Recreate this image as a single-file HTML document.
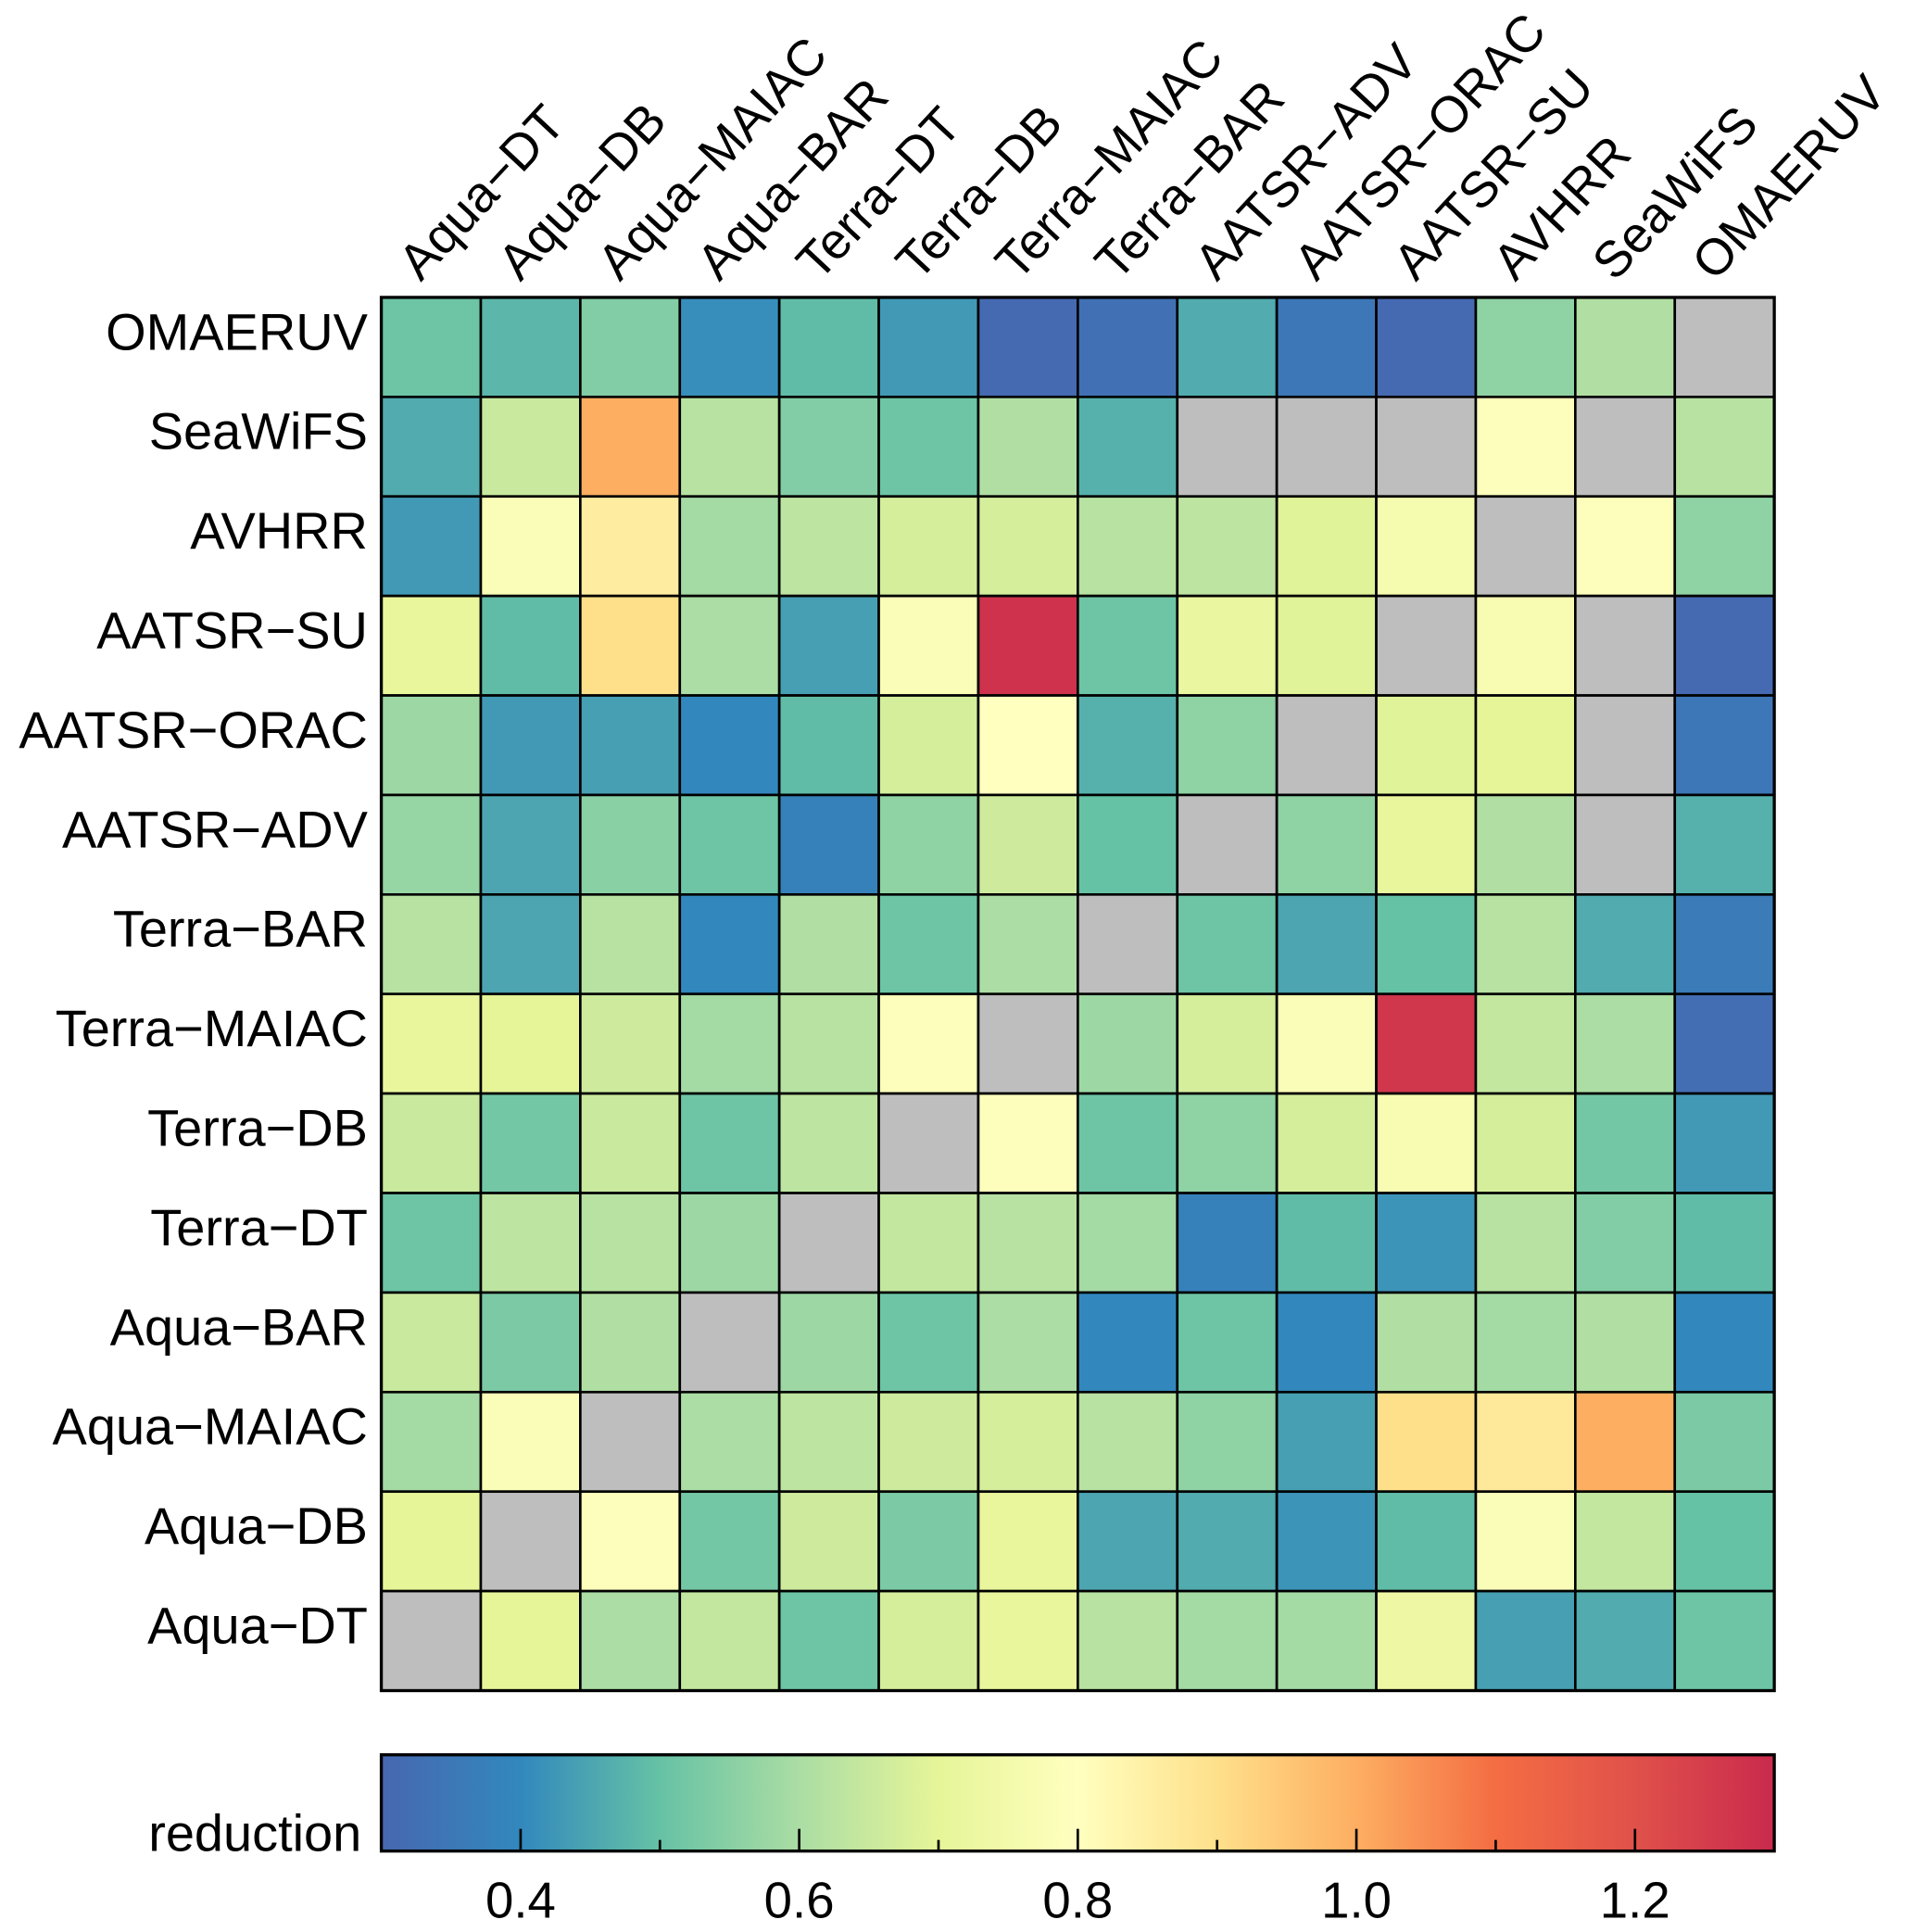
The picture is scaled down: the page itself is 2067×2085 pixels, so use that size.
<!DOCTYPE html>
<html><head><meta charset="utf-8"><style>
html,body{margin:0;padding:0;background:#fff;}
svg{display:block;font-family:"Liberation Sans",Arial,sans-serif;}
</style></head><body>
<svg id="chart" width="2067" height="2085" viewBox="0 0 1552 1565.6" xmlns="http://www.w3.org/2000/svg">
<defs>
<linearGradient id="cbgrad" x1="0" x2="1" y1="0" y2="0"></linearGradient>
</defs>
<g id="cells"></g>
<g id="collabels"></g>
<g id="rowlabels"></g>
<g id="colorbar"></g>
</svg>
<script>
const columns = ["Aqua\u2212DT","Aqua\u2212DB","Aqua\u2212MAIAC","Aqua\u2212BAR","Terra\u2212DT","Terra\u2212DB","Terra\u2212MAIAC","Terra\u2212BAR","AATSR\u2212ADV","AATSR\u2212ORAC","AATSR\u2212SU","AVHRR","SeaWiFS","OMAERUV"];
const rows = ["OMAERUV","SeaWiFS","AVHRR","AATSR\u2212SU","AATSR\u2212ORAC","AATSR\u2212ADV","Terra\u2212BAR","Terra\u2212MAIAC","Terra\u2212DB","Terra\u2212DT","Aqua\u2212BAR","Aqua\u2212MAIAC","Aqua\u2212DB","Aqua\u2212DT"];
const N = null;
const rowOMAERUV = [0.51,0.48,0.54,0.41,0.49,0.43,0.31,0.33,0.46,0.35,0.31,0.56,0.61,N];
const rowSeaWiFS = [0.46,0.65,1.0,0.62,0.54,0.51,0.61,0.47,N,N,N,0.79,N,0.62];
const rowAVHRR = [0.43,0.78,0.86,0.59,0.63,0.67,0.67,0.62,0.63,0.69,0.76,N,0.79,0.56];
const rowAATSRSU = [0.71,0.49,0.9,0.60,0.44,0.78,1.28,0.51,0.72,0.69,N,0.77,N,0.31];
const rowAATSRORAC = [0.58,0.43,0.44,0.40,0.49,0.67,0.80,0.47,0.56,N,0.69,0.70,N,0.35];
const rowAATSRADV = [0.57,0.45,0.55,0.51,0.38,0.56,0.66,0.50,N,0.56,0.71,0.61,N,0.47];
const rowTerraBAR = [0.62,0.45,0.62,0.40,0.61,0.51,0.60,N,0.51,0.45,0.50,0.62,0.46,0.36];
const rowTerraMAIAC = [0.71,0.70,0.66,0.59,0.62,0.79,N,0.58,0.67,0.78,1.27,0.64,0.60,0.32];
const rowTerraDB = [0.65,0.52,0.65,0.51,0.63,N,0.79,0.51,0.56,0.67,0.77,0.67,0.52,0.43];
const rowTerraDT = [0.51,0.63,0.62,0.58,N,0.64,0.62,0.59,0.38,0.49,0.42,0.62,0.54,0.49];
const rowAquaBAR = [0.65,0.53,0.61,N,0.58,0.51,0.60,0.40,0.51,0.40,0.61,0.59,0.61,0.40];
const rowAquaMAIAC = [0.59,0.78,N,0.60,0.63,0.66,0.67,0.62,0.56,0.44,0.90,0.87,1.0,0.53];
const rowAquaDB = [0.70,N,0.79,0.52,0.66,0.53,0.71,0.45,0.46,0.42,0.49,0.78,0.64,0.50];
const rowAquaDT = [N,0.70,0.60,0.64,0.51,0.67,0.71,0.62,0.59,0.59,0.73,0.44,0.46,0.51];
const values = [rowOMAERUV,rowSeaWiFS,rowAVHRR,rowAATSRSU,rowAATSRORAC,rowAATSRADV,rowTerraBAR,rowTerraMAIAC,rowTerraDB,rowTerraDT,rowAquaBAR,rowAquaMAIAC,rowAquaDB,rowAquaDT];
const cbTicks = [0.4,0.6,0.8,1.0,1.2];
const cbTickLabels = ["0.4","0.6","0.8","1.0","1.2"];
const vmin = 0.3, vmax = 1.3;

const NS="http://www.w3.org/2000/svg";
const stops=[[0.3,"#4767b0"],[0.4,"#3288bd"],[0.5,"#66c2a5"],[0.6,"#abdda4"],[0.7,"#e6f598"],[0.8,"#ffffbf"],[0.9,"#fee08b"],[1.0,"#fdae61"],[1.1,"#f46d43"],[1.2,"#e0514a"],[1.3,"#c92a4d"]];
function hex(h){return [1,3,5].map(i=>parseInt(h.substr(i,2),16));}
function cmap(v){
  v=Math.max(vmin,Math.min(vmax,v));
  for(let i=0;i<stops.length-1;i++){
    const [a,ca]=stops[i],[b,cb]=stops[i+1];
    if(v<=b){const t=(v-a)/(b-a);const A=hex(ca),B=hex(cb);
      return "rgb("+A.map((x,k)=>Math.round(x+(B[k]-x)*t)).join(",")+")";}
  }
  return stops[stops.length-1][1];
}
const gx0=309,gy0=241,gx1=1438,gy1=1370;
const cw=(gx1-gx0)/columns.length, ch=(gy1-gy0)/rows.length;
const xPos=i=>gx0+i*cw, yPos=j=>gy0+j*ch;
function mk(tag,attrs,parent){const e=document.createElementNS(NS,tag);for(const k in attrs)e.setAttribute(k,attrs[k]);parent.appendChild(e);return e;}
const cells=document.getElementById('cells');
values.forEach((r,j)=>r.forEach((v,i)=>{
  const e=mk('rect',{x:xPos(i),y:yPos(j),width:cw,height:ch,fill:v===null?"#bebebe":cmap(v),stroke:"#000","stroke-width":2},cells);
  
  
}));
const gb=mk('rect',{x:gx0,y:gy0,width:gx1-gx0,height:gy1-gy0,fill:"none",stroke:"#000","stroke-width":2.5},cells);


const cl=document.getElementById('collabels');
columns.forEach((c,i)=>{
  const x=xPos(i)+32,y=229;
  const t=mk('text',{x:x,y:y,"font-size":41,transform:"rotate(-47 "+x+" "+y+")"},cl);
  t.textContent=c;
  
  
});
const rl=document.getElementById('rowlabels');
rows.forEach((r,j)=>{
  const t=mk('text',{x:298,y:yPos(j)+ch/2+2,"font-size":42,"text-anchor":"end"},rl);
  t.textContent=r;
  
  
});
const grad=document.getElementById('cbgrad');
stops.forEach(s=>mk('stop',{offset:((s[0]-vmin)/(vmax-vmin)),"stop-color":s[1]},grad));
const cb=document.getElementById('colorbar');
const cy0=1422,cy1=1500;
const cbx=v=>gx0+(v-vmin)/(vmax-vmin)*(gx1-gx0);
const cr=mk('rect',{x:gx0,y:cy0,width:gx1-gx0,height:cy1-cy0,fill:"url(#cbgrad)",stroke:"#000","stroke-width":2.5},cb);


for(let k=1;k<10;k++){
  const v=vmin+k*0.1;
  const major=cbTicks.some(t=>Math.abs(t-v)<1e-6);
  const l=mk('line',{x1:cbx(v),x2:cbx(v),y1:cy1,y2:cy1-(major?18:9),stroke:"#000","stroke-width":2},cb);
  
  
}
cbTicks.forEach((v,i)=>{
  const t=mk('text',{x:cbx(v),y:1554,"font-size":41,"text-anchor":"middle"},cb);
  t.textContent=cbTickLabels[i];
  
  
});
const lab=mk('text',{x:293,y:1500,"font-size":42,"text-anchor":"end"},cb);
lab.textContent="reduction";


</script>
</body></html>
